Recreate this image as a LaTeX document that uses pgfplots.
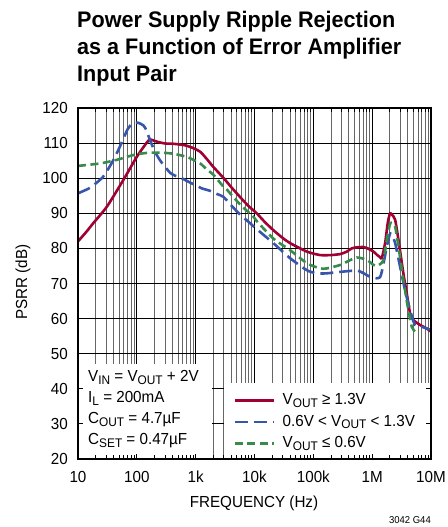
\documentclass[border=0pt]{standalone}
\usepackage{pgfplots}
\pgfplotsset{compat=1.18}
\usepackage{fontspec}
\setmainfont{Liberation Sans}[FakeStretch=0.95]
\newfontfamily\titlefont{Liberation Sans}[FakeStretch=0.96]
\definecolor{cred}{RGB}{160,0,50}
\definecolor{cblue}{RGB}{55,85,170}
\definecolor{cgreen}{RGB}{55,140,75}
\newcommand{\sub}[1]{\raisebox{-2.5pt}{\fontsize{12.5}{12.5}\selectfont #1}}
\newcommand{\fs}{\fontsize{16}{16}\selectfont}

\pgfplotstableread{
f db
10 82
14 84.8
18 87.1
31 91.9
59 99.5
100 106.1
150 110.3
170 111
220 110.4
300 109.9
420 109.8
650 109.4
900 108.6
1200 107.5
1540 105.5
2000 103.2
3000 100
4000 97.5
6000 94.2
8000 92
10900 90
15000 87.5
20900 85.2
30000 83
40300 81.5
77400 79.1
130000 78.1
200000 78.1
290000 78.4
372000 79.1
450000 80
550000 80.3
700000 80.4
815000 80.1
1050000 79.1
1200000 78.2
1360000 77.5
1460000 77.3
1660000 81.5
1850000 87.5
2020000 90
2200000 89.5
2460000 88.1
2800000 82.4
3390000 72.9
3870000 67.2
4410000 61.5
5000000 59.6
6500000 58.2
8400000 57.2
10000000 56.3
}\redtab

\pgfplotstableread{
f db
10 95.7
15 97
20 98.5
27 100.5
38 104.5
50 108.5
70 114
85 115.6
105 115.8
130 115
147 113.5
167 110.9
204 107.5
250 105
300 103.3
370 101.5
450 100.7
550 100.2
750 99
1000 98
1270 97.1
1760 96.4
2300 95.5
2960 94.7
4000 92.3
5700 89.6
7400 88
10900 85.5
20900 81.5
40300 77.2
77400 73.8
114000 72.9
170000 72.9
326000 73.4
550000 73.7
700000 73
925000 71.9
1200000 71.5
1360000 71.8
1460000 73.4
1660000 78
1770000 80.5
2020000 84.3
2200000 83.5
2460000 81.5
2980000 74.8
3620000 68.1
4410000 62.4
5340000 58.2
6900000 57.7
8400000 57.2
10000000 56.8
}\bluetab

\pgfplotstableread{
f db
10 103.5
23.7 104.2
45 105.2
87 106.6
130 107.1
190 107.3
365 107.1
700 106.1
1190 104.2
1540 102.5
2000 101
2960 97.6
3370 96.8
5700 92.5
9600 89
10900 87.8
20900 82.8
40300 79.5
77400 75.8
130000 74.3
170000 74.3
290000 75.3
372000 76.2
550000 77.4
815000 76.7
1050000 75.3
1200000 75
1360000 75.5
1560000 76.7
1770000 82.4
2020000 87.1
2200000 87
2460000 86.2
2800000 80.5
3390000 71
4120000 62.4
4700000 57.7
5340000 56.3
}\greentab

\begin{document}
\begin{tikzpicture}
\useasboundingbox (0pt,0pt) rectangle (447pt,527pt);
\node[anchor=base west, inner sep=0pt, font=\titlefont\bfseries\fontsize{22.5}{27}\selectfont] at (77pt,499pt) {Power Supply Ripple Rejection};
\node[anchor=base west, inner sep=0pt, font=\titlefont\bfseries\fontsize{22.5}{27}\selectfont] at (77pt,472pt) {as a Function of Error Amplifier};
\node[anchor=base west, inner sep=0pt, font=\titlefont\bfseries\fontsize{22.5}{27}\selectfont] at (77pt,445.5pt) {Input Pair};

\begin{axis}[
  at={(78pt,68pt)}, anchor=south west,
  width=353pt, height=351pt, scale only axis,
  xmode=log, xmin=10, xmax=1e7, ymin=20, ymax=120,
  xtick={10,100,1000,10000,100000,1000000,10000000},
  minor xtick={20,30,40,50,60,70,80,90,200,300,400,500,600,700,800,900,2000,3000,4000,5000,6000,7000,8000,9000,20000,30000,40000,50000,60000,70000,80000,90000,200000,300000,400000,500000,600000,700000,800000,900000,2000000,3000000,4000000,5000000,6000000,7000000,8000000,9000000},
  ytick={20,30,...,120},
  xticklabels={10,100,1k,10k,100k,1M,10M},
  grid=both,
  major grid style={black, line width=0.9pt},
  minor grid style={black!60, line width=0.8pt},
  tick style={draw=none},
  axis line style={draw=none},
  /pgf/number format/assume math mode=true,
  ticklabel style={font=\fs},
  xticklabel style={anchor=base, inner sep=0pt, yshift=-24pt},
  yticklabel style={anchor=east, inner sep=0pt, xshift=-10pt},
  legend style={at={(rel axis cs:0.44,0.194)}, anchor=north west, draw=none, fill=none,
    font=\fs, row sep=2.5pt, inner sep=0pt,
    nodes={inner sep=1.5pt, text height=12pt, text depth=4pt}},
  legend cell align=left,
  legend image code/.code={\draw[#1] (0pt,0pt) -- (39pt,0pt); \path (45pt,0pt);},
]
\fill[white] (rel axis cs:0,0) rectangle (rel axis cs:0.381,0.2707);
\fill[white] (rel axis cs:0.415,0) rectangle (rel axis cs:1,0.2165);
\addplot[cred, line width=2.6pt, smooth, tension=0.4] table[x=f,y=db] {\redtab};
\addlegendentry{V\sub{OUT} ≥ 1.3V}
\addplot[cblue, line width=2.6pt, dash pattern=on 13pt off 6pt, smooth, tension=0.4] table[x=f,y=db] {\bluetab};
\addlegendentry{0.6V < V\sub{OUT} < 1.3V}
\addplot[cgreen, line width=2.6pt, dash pattern=on 8pt off 4.5pt, smooth, tension=0.4] table[x=f,y=db] {\greentab};
\addlegendentry{V\sub{OUT} ≤ 0.6V}
\end{axis}

\begin{axis}[
  at={(78pt,68pt)}, anchor=south west,
  width=353pt, height=351pt, scale only axis,
  xmode=log, xmin=10, xmax=1e7, ymin=20, ymax=120,
  xtick={10,100,1000,10000,100000,1000000,10000000},
  minor xtick={20,30,40,50,60,70,80,90,200,300,400,500,600,700,800,900,2000,3000,4000,5000,6000,7000,8000,9000,20000,30000,40000,50000,60000,70000,80000,90000,200000,300000,400000,500000,600000,700000,800000,900000,2000000,3000000,4000000,5000000,6000000,7000000,8000000,9000000},
  ytick={20,30,...,120},
  xticklabels={}, yticklabels={},
  tick align=inside,
  major tick length=5pt, minor tick length=4pt,
  tick style={black, line width=0.8pt},
  axis line style={black, line width=1.2pt},
]
\end{axis}

\node[anchor=base west, inner sep=0pt, font=\fs] at (88pt,145pt) {V\sub{IN} = V\sub{OUT} + 2V};
\node[anchor=base west, inner sep=0pt, font=\fs] at (88pt,124pt) {I\sub{L} = 200mA};
\node[anchor=base west, inner sep=0pt, font=\fs] at (88pt,103pt) {C\sub{OUT} = 4.7µF};
\node[anchor=base west, inner sep=0pt, font=\fs] at (88pt,82pt) {C\sub{SET} = 0.47µF};

\node[anchor=base, inner sep=0pt, font=\fs] at (254pt,19pt) {FREQUENCY (Hz)};
\node[rotate=90, anchor=center, inner sep=0pt, font=\fs] at (23pt,245pt) {PSRR (dB)};
\node[anchor=base east, inner sep=0pt, font=\fontsize{10}{10}\selectfont] at (431pt,3pt) {3042 G44};
\end{tikzpicture}
\end{document}
